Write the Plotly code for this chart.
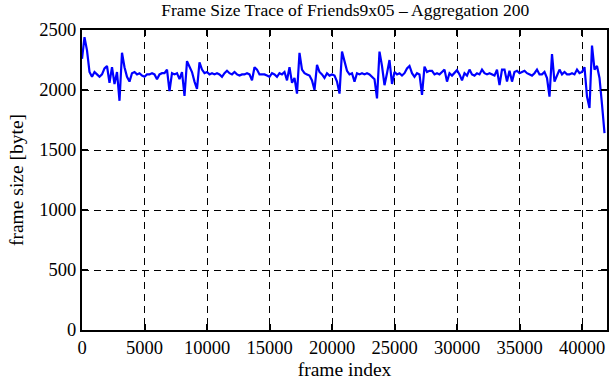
import plotly.graph_objects as go

step = 200
frame_size = [
    2260, 2440, 2330, 2150, 2110, 2150, 2130, 2110, 2130, 2180,
    2200, 2060, 2190, 2050, 2150, 1910, 2310, 2190, 2110, 2070,
    2140, 2150, 2130, 2140, 2120, 2110, 2130, 2130, 2140, 2130,
    2090, 2130, 2140, 2140, 2170, 1990, 2140, 2130, 2140, 2090,
    2150, 1950, 2240, 2190, 2150, 2070, 2010, 2230, 2170, 2140,
    2150, 2130, 2140, 2130, 2140, 2130, 2110, 2140, 2160, 2140,
    2130, 2150, 2130, 2120, 2130, 2130, 2140, 2130, 2080, 2190,
    2170, 2130, 2130, 2130, 2120, 2110, 2140, 2130, 2110, 2140,
    2130, 2150, 2080, 2190, 2060, 2100, 1970, 2310, 2170, 2140,
    2130, 2120, 2080, 2000, 2210, 2150, 2130, 2100, 2140, 2120,
    2130, 2120, 2070, 1970, 2320, 2240, 2160, 2130, 2140, 2070,
    2140, 2130, 2140, 2130, 2140, 2130, 2110, 2090, 1930, 2320,
    2200, 2040, 2140, 2250, 2050, 2150, 2130, 2140, 2120, 2140,
    2180, 2200, 2140, 2110, 2140, 2130, 1960, 2195, 2150, 2160,
    2160, 2130, 2140, 2130, 2150, 2170, 2070, 2140, 2120, 2140,
    2165, 2130, 2080, 2140, 2120, 2170, 2130, 2120, 2140, 2130,
    2170, 2140, 2130, 2140, 2130, 2120, 2170, 2040, 2170, 2170,
    2070, 2160, 2070, 2150, 2160, 2140, 2150, 2160, 2140, 2130,
    2120, 2140, 2170, 2130, 2130, 2150, 2100, 1945, 2300, 2070,
    2120, 2170, 2130, 2150, 2130, 2130, 2140, 2130, 2170, 2140,
    2150, 2190, 1945, 1850, 2370, 2170, 2200, 2100, 1880, 1640,
]
frame_index = [i * step for i in range(len(frame_size))]

x_ticks = [0, 5000, 10000, 15000, 20000, 25000, 30000, 35000, 40000]
y_ticks = [0, 500, 1000, 1500, 2000, 2500]

font = "Liberation Serif"

fig = go.Figure()
fig.add_trace(go.Scatter(
    x=frame_index, y=frame_size, mode="lines",
    line=dict(color="#0000ff", width=2.2),
    showlegend=False,
))

axis_common = dict(
    showline=True, linecolor="black", linewidth=2, mirror="allticks",
    ticks="inside", ticklen=6, tickwidth=1.5, tickcolor="black",
    showgrid=True, gridcolor="black", gridwidth=1, griddash="7px,5px",
    zeroline=False,
    tickfont=dict(family=font, size=18.5, color="black"),
    title_font=dict(family=font, size=19.5, color="black"),
)

fig.update_xaxes(
    range=[0, 42000], tickvals=x_ticks, ticktext=[str(v) for v in x_ticks],
    title_text="frame index", title_standoff=5, **axis_common,
)
fig.update_yaxes(
    range=[0, 2500], tickvals=y_ticks, ticktext=[str(v) for v in y_ticks],
    title_text="frame size [byte]", title_standoff=10, **axis_common,
)

fig.update_layout(
    width=611, height=380,
    margin=dict(l=82, r=2, t=30, b=50),
    paper_bgcolor="white", plot_bgcolor="white",
    title=dict(
        text="Frame Size Trace of Friends9x05 \u2013 Aggregation 200",
        x=0.565, xanchor="center", y=0.99, yanchor="top",
        font=dict(family=font, size=17.5, color="black"),
    ),
)

fig.write_html(
    "out.html",
    config={"displayModeBar": False},
    post_script="document.body.style.margin='0';document.body.style.overflow='hidden';",
)
